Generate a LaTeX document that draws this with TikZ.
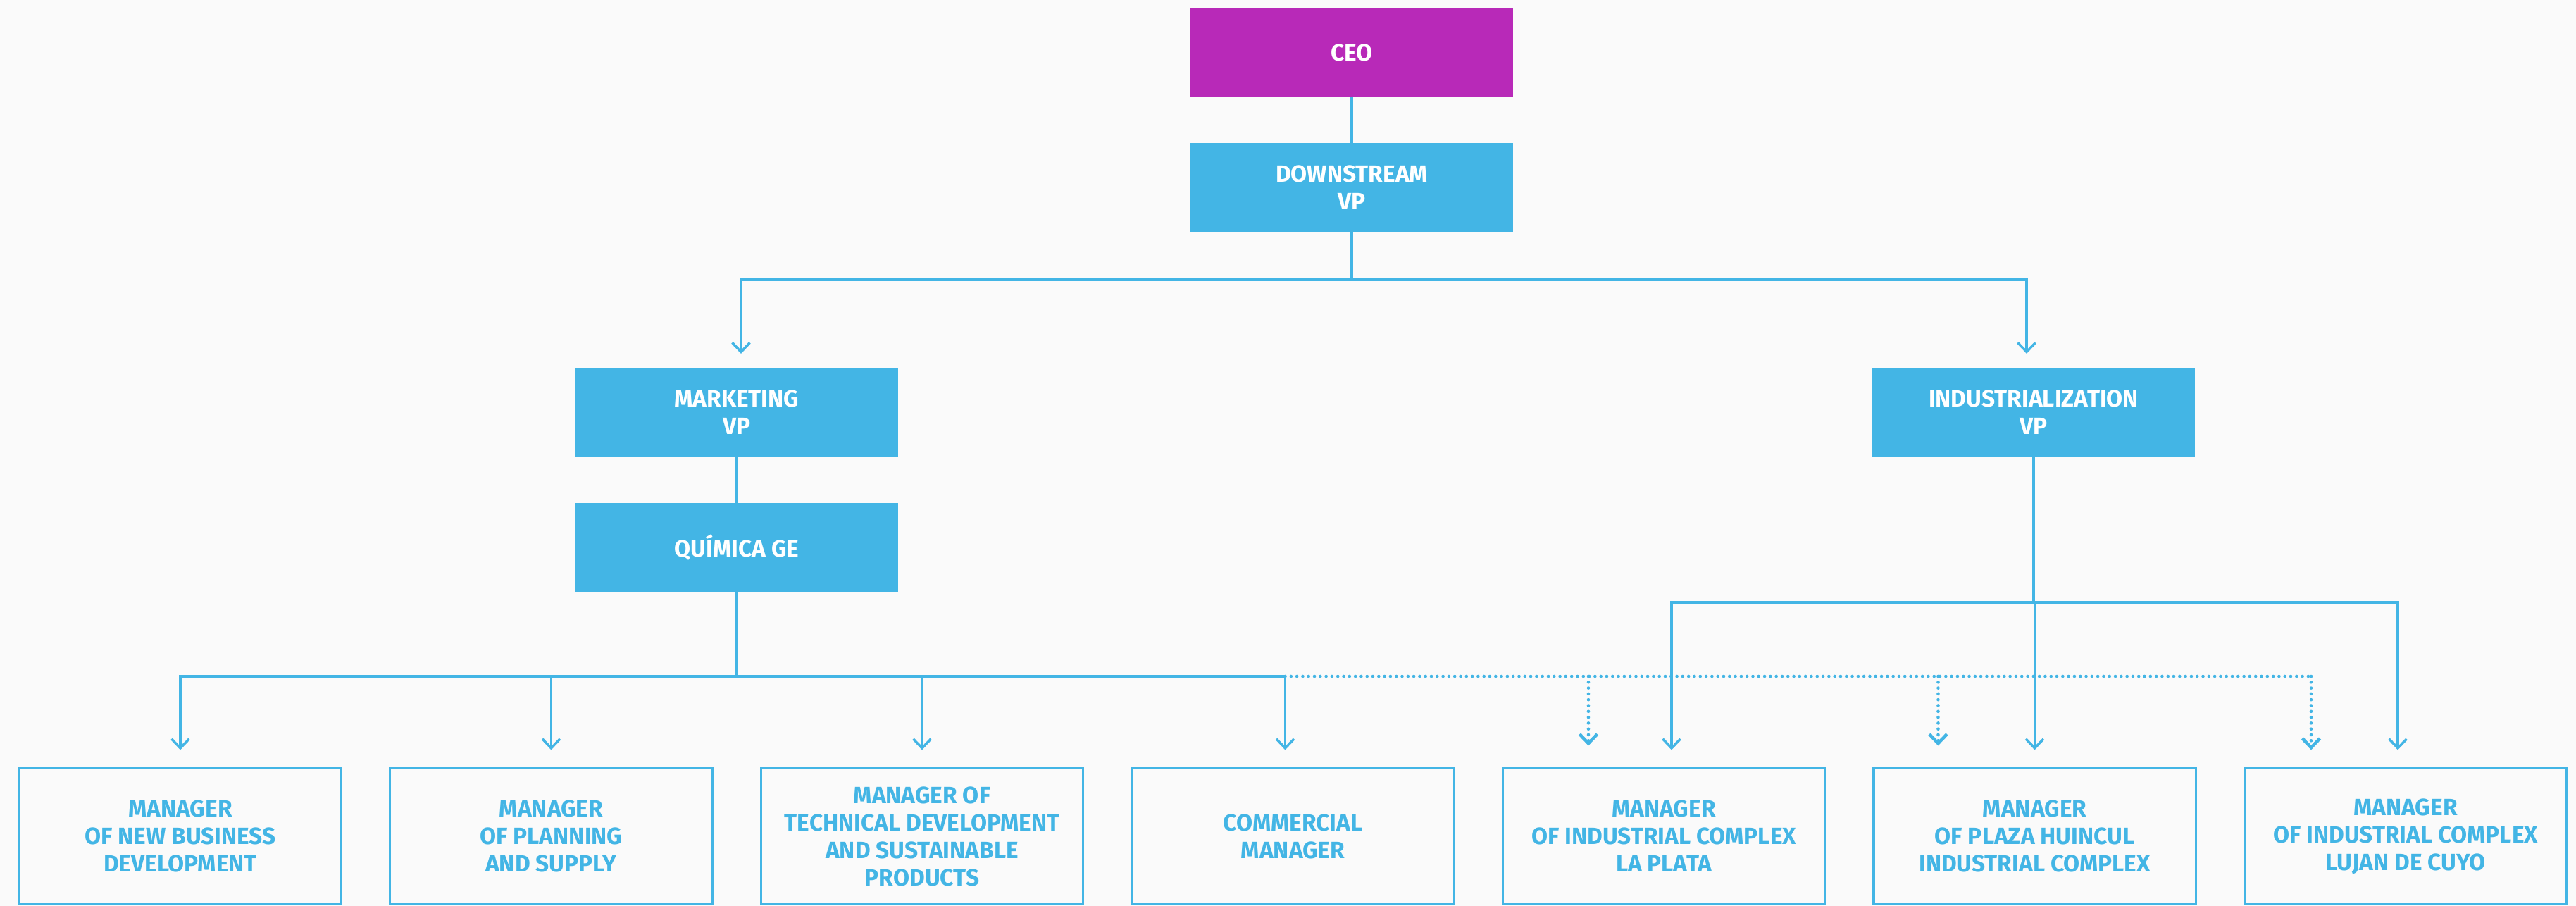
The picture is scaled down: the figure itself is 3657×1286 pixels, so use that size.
\documentclass[tikz,border=0pt]{standalone}
\usepackage{fontspec}
\setmainfont{Fira Sans}
\usetikzlibrary{positioning,arrows.meta}

\definecolor{ceopurple}{RGB}{184,41,184}
\definecolor{orgblue}{RGB}{67,181,229}
\definecolor{paper}{RGB}{250,250,250}

\begin{document}
\begin{tikzpicture}[x=0.01cm, y=-0.01cm,
  orgfont/.style={font=\fontsize{9.5}{11.1}\selectfont\bfseries},
  topbox/.style={orgfont, fill=orgblue, text=white, align=center, inner sep=0pt,
    outer sep=0pt, minimum width=4.57cm, minimum height=1.26cm},
  ceobox/.style={topbox, fill=ceopurple},
  mgrbox/.style={orgfont, draw=orgblue, line width=0.9pt, fill=paper, text=orgblue,
    align=center, inner sep=0pt, outer sep=0pt, minimum width=4.57cm, minimum height=1.93cm},
  link/.style={draw=orgblue, line width=1pt},
  arr/.style={link, -{Straight Barb[length=1.3mm,width=2.5mm]}, shorten >=0.26cm},
  dotlink/.style={link, line width=1.3pt, line cap=round, dash pattern=on 0pt off 2.36pt},
  dotarr/.style={arr, dotlink, shorten >=0.32cm}]
\fill[paper] (0,0) rectangle (3657,1286);
\useasboundingbox (0,0) rectangle (3657,1286);

% top of the chart
\node[ceobox] (ceo) at (1919,75) {CEO};
\node[topbox] (down) at (1919,266) {DOWNSTREAM\\VP};
\node[topbox] (mkt) at (1046,585) {MARKETING\\VP};
\node[topbox] (ind) at (2887,585) {INDUSTRIALIZATION\\VP};
\node[topbox] (qui) at (1046,777) {QUÍMICA GE};

% managers, one row
\node[mgrbox] (m1) at (256,1187) {MANAGER\\OF NEW BUSINESS\\DEVELOPMENT};
\node[mgrbox, right=0.692cm of m1] (m2) {MANAGER\\OF PLANNING\\AND SUPPLY};
\node[mgrbox, right=0.692cm of m2] (m3) {MANAGER OF\\TECHNICAL DEVELOPMENT\\AND SUSTAINABLE\\PRODUCTS};
\node[mgrbox, right=0.692cm of m3] (m4) {COMMERCIAL\\MANAGER};
\node[mgrbox, right=0.692cm of m4] (m5) {MANAGER\\OF INDUSTRIAL COMPLEX\\LA PLATA};
\node[mgrbox, right=0.692cm of m5] (m6) {MANAGER\\OF PLAZA HUINCUL\\INDUSTRIAL COMPLEX};
\node[mgrbox, right=0.692cm of m6] (m7) {MANAGER\\OF INDUSTRIAL COMPLEX\\LUJAN DE CUYO};

\coordinate (dbus) at (1919,397);
\coordinate (qbus) at (1046,960);
\coordinate (ibus) at (2887,855);

\draw[link] (ceo) -- (down);
\draw[link] (down) -- (dbus);
\draw[arr, shorten >=0.2cm] (dbus) -| ([xshift=0.06cm]mkt.north);
\draw[arr, shorten >=0.2cm] (dbus) -| ([xshift=-0.1cm]ind.north);
\draw[link] (mkt) -- (qui);

% quimica branch
\draw[link] (qui) -- (qbus);
\foreach \m in {m1,m2,m3}
  \draw[arr] (qbus) -| (\m);
\draw[arr] (qbus) -| ([xshift=-0.11cm]m4.north);

% industrial branch
\draw[link] (ind) -- (ibus);
\draw[arr] (ibus) -| ([xshift=0.11cm]m5.north);
\draw[arr] (ibus) -| (m6);
\draw[arr] (ibus) -| ([xshift=-0.11cm]m7.north);

% dotted line to the complexes
\draw[dotlink] ([xshift=-0.11cm]m4.north |- qbus) -- ([xshift=-1.34cm]m7.north |- qbus);
\draw[dotarr] ([xshift=-1.07cm]m5.north |- qbus) -- ([xshift=-1.07cm]m5.north);
\draw[dotarr] ([xshift=-1.37cm]m6.north |- qbus) -- ([xshift=-1.37cm]m6.north);
\draw[dotarr, shorten >=0.26cm] ([xshift=-1.34cm]m7.north |- qbus) -- ([xshift=-1.34cm]m7.north);

\end{tikzpicture}
\end{document}
